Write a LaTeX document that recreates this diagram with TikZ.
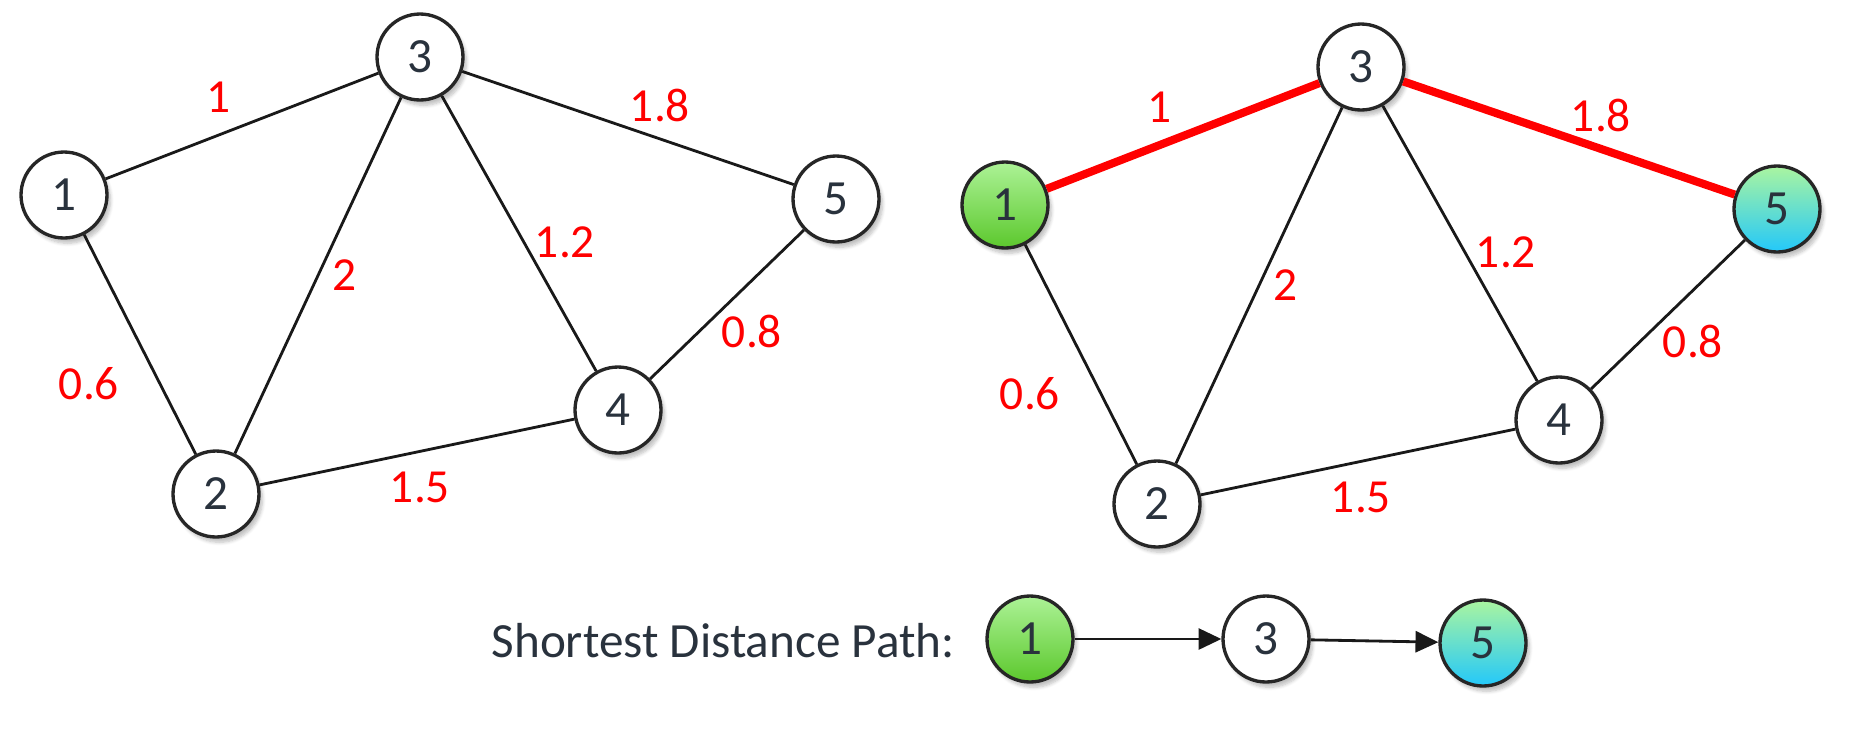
\documentclass[tikz,border=0pt]{standalone}
\usepackage{fontspec}
\setmainfont{Carlito}
\usepackage{xcolor}
\usetikzlibrary{arrows.meta,shadows.blur}

\definecolor{ink}{HTML}{29323D}
\definecolor{srctop}{RGB}{172,242,150}
\definecolor{srcbot}{RGB}{92,200,45}
\definecolor{dsttop}{RGB}{170,245,160}
\definecolor{dstbot}{RGB}{35,200,250}

\begin{document}
\begin{tikzpicture}[
    x=0.02cm, y=-0.02cm,
    vertex/.style={circle, draw=black!85, line width=1.9pt, fill=white, minimum size=1.72cm,
        inner sep=0pt, text=ink, font=\fontsize{28}{32}\selectfont,
        blur shadow={shadow xshift=2pt, shadow yshift=-3pt, shadow blur steps=6, shadow opacity=25}},
    source/.style={vertex, top color=srctop, bottom color=srcbot},
    target/.style={vertex, top color=dsttop, bottom color=dstbot},
    edge/.style={draw=black!90, line width=1.6pt},
    best/.style={draw=red, line width=4.6pt},
    wt/.style={text=red, font=\fontsize{27}{31}\selectfont},
    hop/.style={-{Triangle[length=13pt, width=12pt]}, draw=black!90, line width=1.6pt}
]
    \useasboundingbox (0,0) rectangle (1853,741);

    % Left graph
    \node[vertex] (a1) at (64,195) {1};
    \node[vertex] (a2) at (216,494) {2};
    \node[vertex] (a3) at (420,57) {3};
    \node[vertex] (a4) at (618,410) {4};
    \node[vertex] (a5) at (836,199) {5};

    \draw[edge] (a1) -- (a3);
    \draw[edge] (a1) -- (a2);
    \draw[edge] (a2) -- (a3);
    \draw[edge] (a3) -- (a4);
    \draw[edge] (a3) -- (a5);
    \draw[edge] (a2) -- (a4);
    \draw[edge] (a4) -- (a5);

    \node[wt] (w13) at (219,97) {1};
    \node[wt] (w35) at (660,105) {1.8};
    \node[wt] (w23) at (345,275) {2};
    \node[wt] (w34) at (565,242) {1.2};
    \node[wt] (w45) at (752,331) {0.8};
    \node[wt] (w12) at (89,384) {0.6};
    \node[wt] (w24) at (420,487) {1.5};

    % Right graph, shortest path marked
    \begin{scope}[shift={(941,10)}]
        \node[source] (b1) at (64,195) {1};
        \node[vertex] (b2) at (216,494) {2};
        \node[vertex] (b3) at (420,57) {3};
        \node[vertex] (b4) at (618,410) {4};
        \node[target] (b5) at (836,199) {5};

        \draw[best] (b1) -- (b3);
        \draw[edge] (b1) -- (b2);
        \draw[edge] (b2) -- (b3);
        \draw[edge] (b3) -- (b4);
        \draw[best] (b3) -- (b5);
        \draw[edge] (b2) -- (b4);
        \draw[edge] (b4) -- (b5);

        \node[wt] (v13) at (219,97) {1};
        \node[wt] (v35) at (660,105) {1.8};
        \node[wt] (v23) at (345,275) {2};
        \node[wt] (v34) at (565,242) {1.2};
        \node[wt] (v45) at (752,331) {0.8};
        \node[wt] (v12) at (89,384) {0.6};
        \node[wt] (v24) at (420,487) {1.5};
    \end{scope}

    % Path summary
    \node[text=ink, font=\fontsize{28}{33}\selectfont, anchor=east] (T) at (961,641) {Shortest Distance Path:};
    \node[source] (p1) at (1030,639) {1};
    \node[vertex] (p3) at (1266,639) {3};
    \node[target] (p5) at (1483,643) {5};
    \draw[hop] (p1) -- (p3);
    \draw[hop] (p3) -- (p5);
\end{tikzpicture}
\end{document}
